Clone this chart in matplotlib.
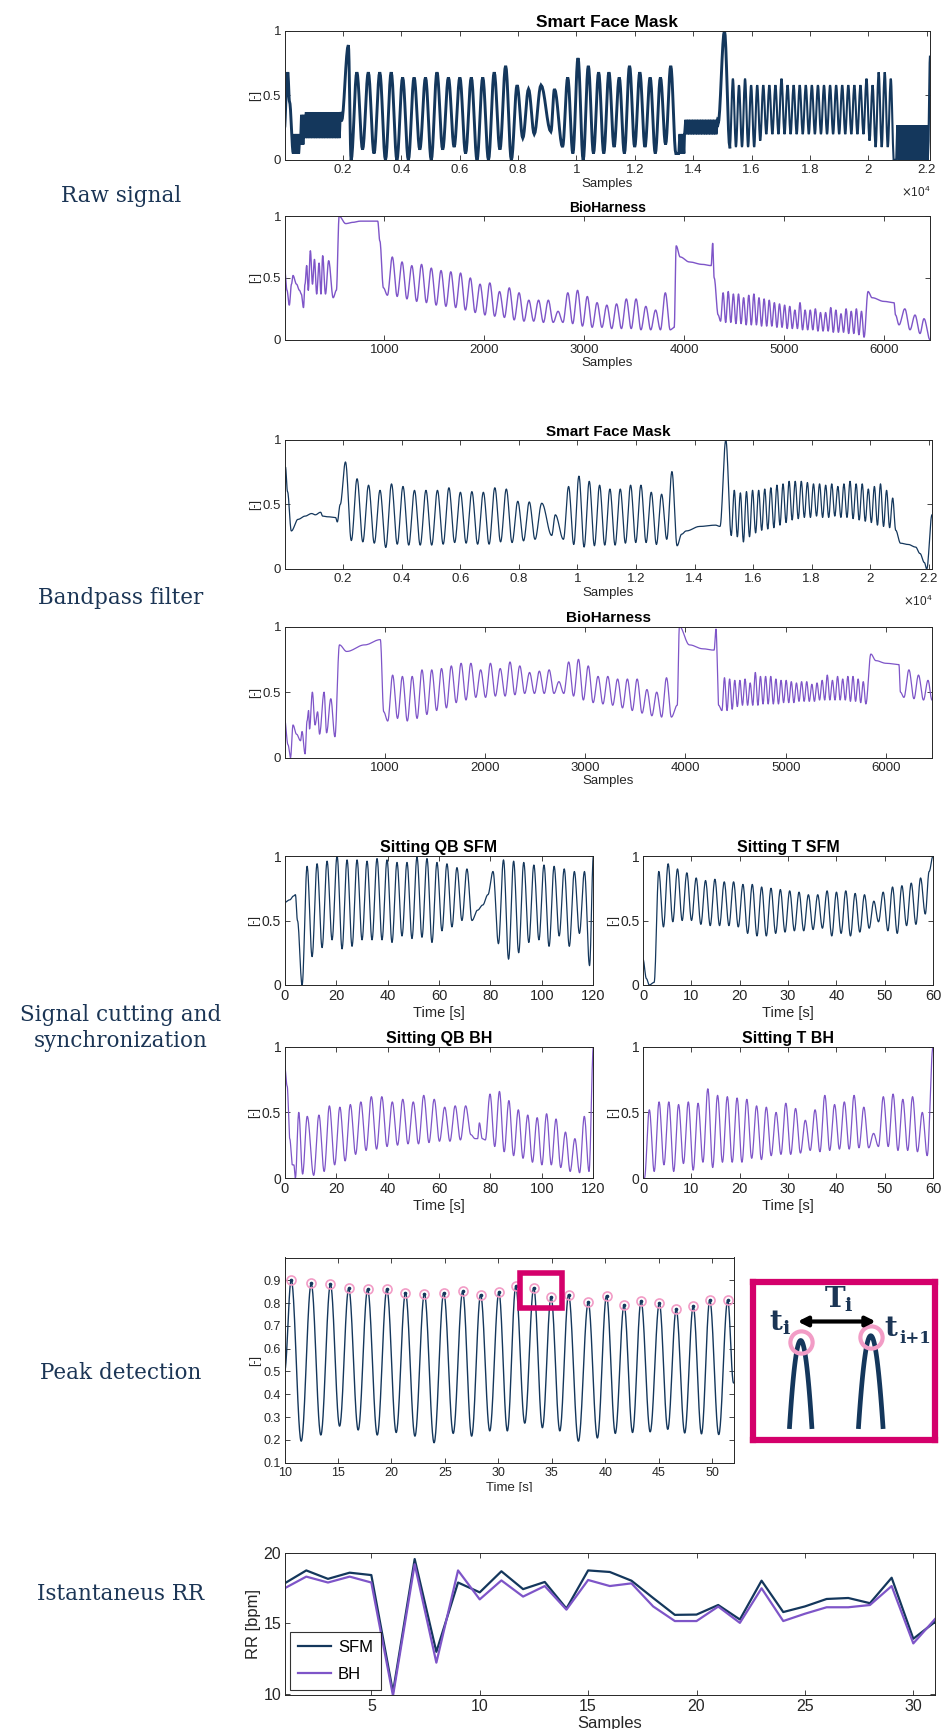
import numpy as np
import matplotlib
matplotlib.use("Agg")
import matplotlib.pyplot as plt
from matplotlib.patches import Rectangle

# ---------------------------------------------------------------- colours
SFM_COLOR = "#14375c"
BH_COLOR = "#7e55c8"
RING_COLOR = "#f29cc6"
BOX_COLOR = "#d4006b"
STEP_COLOR = "#1b3555"

# ---------------------------------------------------------------- data
# Smart Face Mask, raw (samples, normalised amplitude)
RAW_SFM_HEAD = [(0, 0.25), (60, 0.50), (110, 0.68), (170, 0.45), (300, 0.05)]
RAW_SFM_BANDS_1 = [(300, 540, 0.05, 0.20), (540, 700, 0.12, 0.35), (700, 1950, 0.17, 0.37)]
RAW_SFM_RISE = [(1950, 0.30), (2185, 0.89), (2280, 0.0)]
RAW_SFM_A_PEAKS = [0.68, 0.68, 0.68, 0.68, 0.64, 0.64, 0.64, 0.68, 0.64, 0.64, 0.64, 0.64, 0.68, 0.73, 0.58, 0.55]
RAW_SFM_A_TROUGHS = [0.08, 0.05, 0.0, 0.0, 0.0, 0.08, 0.0, 0.08, 0.10, 0.05, 0.0, 0.0, 0.08, 0.0, 0.17, 0.20]
RAW_SFM_MID = [(8784, 0.58), (9123, 0.22), (9246, 0.55), (9523, 0.10)]
RAW_SFM_B_PEAKS = [0.64, 0.79, 0.73, 0.68, 0.68, 0.64, 0.73, 0.68, 0.64, 0.64, 0.73]
RAW_SFM_B_TROUGHS = [0.05, 0.0, 0.05, 0.05, 0.10, 0.05, 0.10, 0.10, 0.05, 0.12, 0.05]
RAW_SFM_BANDS_2 = [(13500, 13700, 0.05, 0.20), (13700, 14850, 0.20, 0.31)]
RAW_SFM_SPIKE = [(14850, 0.28), (15069, 1.0), (15254, 0.10)]
RAW_SFM_C_PEAKS = [0.63, 0.58, 0.63, 0.58, 0.58, 0.58, 0.58, 0.58, 0.63, 0.58, 0.58, 0.58, 0.58, 0.58,
                   0.58, 0.58, 0.58, 0.58, 0.58, 0.58, 0.58, 0.58, 0.63, 0.58, 0.68, 0.68, 0.63]
RAW_SFM_C_TROUGHS = [0.10, 0.10, 0.10, 0.10, 0.15, 0.20, 0.20, 0.20, 0.20, 0.20, 0.20, 0.20, 0.20, 0.20,
                     0.20, 0.20, 0.20, 0.20, 0.20, 0.20, 0.20, 0.20, 0.15, 0.10, 0.10, 0.10, 0.0]
RAW_SFM_BANDS_3 = [(20950, 22050, 0.0, 0.27)]
RAW_SFM_END = [(22050, 0.10), (22110, 0.80)]

# cycle windows shared by both Smart Face Mask traces (samples)
SFM_CYC_A = (2280, 8553)
SFM_CYC_B = (9523, 13405)
SFM_CYC_C = (15254, 20871)
SFM_XMAX = 22110

# Smart Face Mask, band-pass filtered
BP_SFM_HEAD = [(0, 0.51), (31, 0.79), (100, 0.60), (231, 0.295), (460, 0.385), (700, 0.41), (925, 0.43),
               (1050, 0.42), (1230, 0.44), (1300, 0.41), (1460, 0.405), (1740, 0.40), (1800, 0.365),
               (1900, 0.50), (2080, 0.83), (2280, 0.22)]
BP_SFM_A_PEAKS = [0.70, 0.65, 0.61, 0.66, 0.64, 0.61, 0.61, 0.61, 0.63, 0.595, 0.60, 0.595, 0.63, 0.62, 0.525, 0.52]
BP_SFM_A_TROUGHS = [0.21, 0.20, 0.167, 0.192, 0.185, 0.185, 0.185, 0.192, 0.205, 0.20, 0.192, 0.192, 0.21, 0.205, 0.218, 0.23]
BP_SFM_MID = [(8784, 0.51), (9123, 0.26), (9246, 0.42), (9523, 0.23)]
BP_SFM_B_PEAKS = [0.64, 0.72, 0.68, 0.65, 0.62, 0.62, 0.65, 0.65, 0.595, 0.58, 0.755]
BP_SFM_B_TROUGHS = [0.19, 0.17, 0.18, 0.185, 0.185, 0.20, 0.205, 0.205, 0.19, 0.23, 0.18]
BP_SFM_GAP = [(13560, 0.27), (13715, 0.295), (14177, 0.33), (14717, 0.34), (14870, 0.33), (15069, 1.0), (15254, 0.26)]
BP_SFM_C_PEAKS = [0.61, 0.59, 0.60, 0.61, 0.61, 0.62, 0.63, 0.65, 0.66, 0.68, 0.68, 0.68, 0.67, 0.66,
                  0.66, 0.65, 0.66, 0.64, 0.66, 0.68, 0.66, 0.66, 0.62, 0.64, 0.66, 0.61, 0.55]
BP_SFM_C_TROUGHS = [0.25, 0.21, 0.25, 0.28, 0.30, 0.31, 0.32, 0.34, 0.36, 0.38, 0.39, 0.40, 0.40, 0.41,
                    0.40, 0.40, 0.41, 0.40, 0.40, 0.39, 0.38, 0.37, 0.36, 0.34, 0.33, 0.32, 0.30]
BP_SFM_TAIL = [(21035, 0.20), (21300, 0.19), (21550, 0.17), (21700, 0.12), (21850, 0.05), (21930, 0.0), (22110, 0.42)]

# BioHarness cycle windows (samples)
BH_CYC_A = (1030, 3860)
BH_CYC_B = (4364, 5800)
BH_XMAX = 6460

# BioHarness, raw
RAW_BH_HEAD = [(0, 0.58), (25, 0.40), (48, 0.28), (70, 0.45), (85, 0.52), (120, 0.45), (150, 0.40), (168, 0.37),
               (190, 0.26), (205, 0.45), (222, 0.60), (238, 0.40), (259, 0.72), (280, 0.45), (300, 0.65),
               (322, 0.37), (346, 0.62), (365, 0.37), (382, 0.68), (410, 0.37), (442, 0.64), (487, 0.34),
               (519, 0.40), (547, 1.0), (613, 0.94), (680, 0.95), (760, 0.96), (933, 0.96), (954, 0.80),
               (990, 0.42), (1030, 0.36)]
RAW_BH_A_PEAKS = [0.67, 0.63, 0.60, 0.61, 0.58, 0.56, 0.55, 0.54, 0.50, 0.45, 0.46, 0.39, 0.42, 0.38, 0.32,
                  0.32, 0.32, 0.23, 0.38, 0.40, 0.35, 0.30, 0.28, 0.29, 0.33, 0.33, 0.27, 0.24, 0.38]
RAW_BH_A_TROUGHS = [0.35, 0.33, 0.31, 0.30, 0.28, 0.27, 0.26, 0.24, 0.22, 0.20, 0.19, 0.18, 0.16, 0.15, 0.15,
                    0.14, 0.14, 0.14, 0.13, 0.11, 0.10, 0.10, 0.09, 0.09, 0.09, 0.08, 0.08, 0.08, 0.08]
RAW_BH_MID = [(3900, 0.10), (3920, 0.76), (3960, 0.67), (4050, 0.63), (4180, 0.61), (4270, 0.60),
              (4285, 0.78), (4300, 0.50), (4340, 0.20), (4364, 0.15)]
RAW_BH_B_PEAKS = [0.38, 0.39, 0.37, 0.37, 0.34, 0.36, 0.37, 0.34, 0.33, 0.32, 0.30, 0.29, 0.28, 0.27,
                  0.24, 0.30, 0.24, 0.24, 0.25, 0.22, 0.22, 0.26, 0.24, 0.21, 0.25, 0.23, 0.25, 0.23]
RAW_BH_B_TROUGHS = [0.14, 0.14, 0.13, 0.13, 0.12, 0.12, 0.12, 0.11, 0.11, 0.11, 0.10, 0.10, 0.09, 0.09,
                    0.09, 0.08, 0.08, 0.08, 0.07, 0.07, 0.07, 0.06, 0.06, 0.06, 0.05, 0.05, 0.04, 0.02]
RAW_BH_TAIL = [(5840, 0.39), (5880, 0.34), (6000, 0.31), (6100, 0.30), (6115, 0.20), (6150, 0.12),
               (6208, 0.25), (6260, 0.08), (6310, 0.20), (6360, 0.05), (6400, 0.17), (6460, 0.0)]

# BioHarness, band-pass filtered
BP_BH_HEAD = [(0, 0.30), (35, 0.10), (60, 0.0), (85, 0.25), (120, 0.18), (160, 0.13), (175, 0.20), (205, 0.03),
              (225, 0.28), (240, 0.36), (250, 0.22), (278, 0.50), (305, 0.25), (330, 0.35), (350, 0.18),
              (395, 0.50), (420, 0.19), (462, 0.45), (503, 0.16), (548, 0.86), (620, 0.81), (800, 0.86),
              (956, 0.90), (990, 0.35), (1030, 0.28)]
BP_BH_A_PEAKS = [0.63, 0.62, 0.62, 0.67, 0.67, 0.68, 0.70, 0.72, 0.72, 0.67, 0.72, 0.68, 0.73, 0.70, 0.65,
                 0.66, 0.67, 0.58, 0.73, 0.75, 0.70, 0.62, 0.62, 0.60, 0.60, 0.60, 0.52, 0.50, 0.61]
BP_BH_A_TROUGHS = [0.30, 0.28, 0.30, 0.33, 0.36, 0.38, 0.42, 0.44, 0.46, 0.46, 0.47, 0.47, 0.48, 0.49, 0.49,
                   0.49, 0.49, 0.49, 0.47, 0.44, 0.42, 0.41, 0.40, 0.38, 0.36, 0.34, 0.32, 0.31, 0.31]
BP_BH_MID = [(3918, 0.40), (3940, 1.0), (4040, 0.86), (4175, 0.83), (4286, 0.82), (4305, 0.98),
             (4331, 0.40), (4364, 0.36)]
BP_BH_B_PEAKS = [0.61, 0.60, 0.59, 0.59, 0.60, 0.57, 0.65, 0.62, 0.62, 0.62, 0.60, 0.59, 0.59, 0.58,
                 0.57, 0.58, 0.58, 0.56, 0.57, 0.59, 0.63, 0.59, 0.62, 0.60, 0.62, 0.62, 0.60, 0.58]
BP_BH_B_TROUGHS = [0.36, 0.37, 0.39, 0.40, 0.40, 0.40, 0.40, 0.41, 0.41, 0.41, 0.41, 0.42, 0.42, 0.42,
                   0.43, 0.43, 0.43, 0.43, 0.44, 0.44, 0.44, 0.44, 0.44, 0.44, 0.43, 0.43, 0.42, 0.41]
BP_BH_TAIL = [(5850, 0.79), (5900, 0.74), (6000, 0.72), (6130, 0.71), (6145, 0.50), (6180, 0.46),
              (6230, 0.67), (6280, 0.45), (6325, 0.63), (6375, 0.44), (6420, 0.59), (6460, 0.44)]

# Sitting QB, Smart Face Mask (seconds)
QB_SFM_HEAD = [(0, 0.64), (2, 0.66), (3.5, 0.69), (4.2, 0.70), (5.0, 0.50), (6.8, 0.0)]
QB_SFM_CYC_A = (6.8, 72.8)
QB_SFM_A_PEAKS = [0.92, 0.94, 0.96, 1.0, 0.97, 0.97, 0.96, 0.98, 0.97, 0.95, 0.95, 0.99, 0.98, 0.95, 0.94, 0.91, 0.90]
QB_SFM_A_TROUGHS = [0.22, 0.29, 0.35, 0.28, 0.30, 0.35, 0.35, 0.35, 0.33, 0.38, 0.36, 0.37, 0.33, 0.42, 0.45, 0.50, 0.50]
QB_SFM_RAMP = [(75, 0.58), (77, 0.62), (79, 0.70), (81, 0.88), (83.1, 0.32)]
QB_SFM_CYC_B = (83.1, 118.5)
QB_SFM_B_PEAKS = [0.97, 0.96, 0.95, 0.93, 0.93, 0.92, 0.90, 0.88, 0.88]
QB_SFM_B_TROUGHS = [0.20, 0.25, 0.33, 0.35, 0.30, 0.38, 0.30, 0.40, 0.15]
QB_SFM_END = [(120, 1.0)]

# Sitting T, Smart Face Mask (seconds)
T_SFM_HEAD = [(0, 0.20), (0.7, 0.05), (1.3, 0.0), (2.3, 0.02)]
T_SFM_CYC = (2.3, 58.4)
T_SFM_PEAKS = [0.88, 0.94, 0.90, 0.87, 0.83, 0.81, 0.82, 0.80, 0.80, 0.78, 0.78, 0.76, 0.75, 0.74, 0.73,
               0.72, 0.70, 0.70, 0.73, 0.72, 0.73, 0.71, 0.70, 0.65, 0.72, 0.76, 0.77, 0.79, 0.83]
T_SFM_TROUGHS = [0.45, 0.49, 0.50, 0.50, 0.47, 0.46, 0.46, 0.46, 0.45, 0.40, 0.38, 0.38, 0.40, 0.41, 0.42,
                 0.42, 0.43, 0.44, 0.38, 0.40, 0.38, 0.41, 0.44, 0.49, 0.42, 0.40, 0.46, 0.47, 0.55]
T_SFM_END = [(59.2, 0.88), (60, 1.0)]

# Sitting QB, BioHarness (seconds)
QB_BH_HEAD = [(0, 0.86), (1, 0.70), (2, 0.30), (3, 0.10), (3.6, 0.10), (4.2, 0.0), (5.5, 0.50), (7.0, 0.03),
              (8.8, 0.47), (11.3, 0.02)]
QB_BH_CYC_A = (11.3, 72.4)
QB_BH_A_PEAKS = [0.48, 0.55, 0.54, 0.56, 0.58, 0.62, 0.62, 0.58, 0.60, 0.58, 0.63, 0.60, 0.54, 0.55, 0.55]
QB_BH_A_TROUGHS = [0.05, 0.10, 0.13, 0.18, 0.21, 0.22, 0.24, 0.25, 0.26, 0.26, 0.27, 0.28, 0.28, 0.29, 0.33]
QB_BH_RAMP = [(74, 0.30), (75, 0.30), (75.7, 0.42), (76.8, 0.30), (78, 0.29)]
QB_BH_CYC_B = (78, 118.3)
QB_BH_B_PEAKS = [0.64, 0.66, 0.59, 0.52, 0.48, 0.46, 0.49, 0.45, 0.35, 0.30, 0.47]
QB_BH_B_TROUGHS = [0.24, 0.20, 0.17, 0.15, 0.12, 0.10, 0.10, 0.08, 0.05, 0.04, 0.05]
QB_BH_END = [(120, 1.0)]

# Sitting T, BioHarness (seconds)
T_BH_HEAD = [(0, 0.0), (0.3, 0.0)]
T_BH_CYC = (0.3, 58.8)
T_BH_PEAKS = [0.52, 0.58, 0.58, 0.56, 0.58, 0.57, 0.68, 0.63, 0.62, 0.61, 0.60, 0.55, 0.54, 0.50, 0.57,
              0.53, 0.44, 0.52, 0.63, 0.56, 0.58, 0.63, 0.54, 0.34, 0.62, 0.64, 0.60, 0.62, 0.50]
T_BH_TROUGHS = [0.05, 0.10, 0.05, 0.11, 0.06, 0.12, 0.08, 0.12, 0.12, 0.12, 0.15, 0.14, 0.17, 0.18, 0.18,
                0.19, 0.21, 0.20, 0.21, 0.22, 0.22, 0.23, 0.23, 0.24, 0.24, 0.21, 0.21, 0.20, 0.17]
T_BH_END = [(60, 1.0)]

# Peak detection (seconds)
PEAK_T = [10.62, 12.49, 14.29, 16.00, 17.77, 19.57, 21.31, 23.08, 24.89, 26.66, 28.34, 30.05, 31.63,
          33.31, 34.93, 36.57, 38.41, 40.12, 41.76, 43.35, 45.06, 46.64, 48.23, 49.78, 51.46]
PEAK_V = [0.903, 0.886, 0.883, 0.865, 0.861, 0.861, 0.846, 0.842, 0.846, 0.851, 0.837, 0.848, 0.873,
          0.868, 0.828, 0.837, 0.804, 0.832, 0.792, 0.810, 0.801, 0.773, 0.786, 0.814, 0.813]
TROUGH_V = [0.194, 0.221, 0.260, 0.243, 0.221, 0.232, 0.216, 0.187, 0.228, 0.216, 0.239, 0.239,
            0.273, 0.253, 0.239, 0.194, 0.208, 0.228, 0.232, 0.235, 0.246, 0.230, 0.226, 0.223]
PEAK_START = (10.0, 0.50)
PEAK_END = (52.0, 0.45)
ZOOM_BOX = (32.0, 0.78, 4.0, 0.15)   # t, value, width, height

# Instantaneous respiratory rate (bpm)
RR_SAMPLES = list(range(1, 32))
RR_SFM = [17.84, 18.76, 18.16, 18.60, 18.43, 10.10, 19.57, 12.97, 17.90, 17.20, 18.70, 17.43, 17.94,
          16.05, 18.76, 18.65, 18.03, 16.80, 15.60, 15.62, 16.30, 15.27, 18.03, 15.80, 16.20, 16.73,
          16.80, 16.43, 18.24, 13.90, 15.10]
RR_BH = [17.49, 18.32, 17.90, 18.32, 17.90, 9.85, 19.20, 12.20, 18.76, 16.70, 18.05, 16.90, 17.65,
         15.97, 18.08, 17.65, 17.84, 16.20, 15.16, 15.16, 16.19, 15.03, 17.49, 15.16, 15.68, 16.14,
         16.14, 16.30, 17.65, 13.57, 15.30]

STEP_LABELS = [("Raw signal", 196), ("Bandpass filter", 598),
               ("Signal cutting and\nsynchronization", 1028), ("Peak detection", 1373),
               ("Istantaneus RR", 1594)]


# ---------------------------------------------------------------- helpers
def cycle_keys(window, peaks, troughs):
    t0, t1 = window
    period = (t1 - t0) / len(peaks)
    keys = []
    for i, (p, q) in enumerate(zip(peaks, troughs)):
        keys.append((t0 + (i + 0.5) * period, p))
        keys.append((t0 + (i + 1) * period, q))
    return keys


def band_keys(bands, step):
    keys = []
    for t0, t1, lo, hi in bands:
        for i, t in enumerate(np.arange(t0, t1, step)):
            keys.append((t, lo if i % 2 == 0 else hi))
    return keys


def trace(keys, n=14):
    t = np.array([k[0] for k in keys], float)
    v = np.array([k[1] for k in keys], float)
    s = np.linspace(0, 1, n, endpoint=False)
    w = 0.5 - 0.5 * np.cos(np.pi * s)
    xs = (t[:-1, None] + (t[1:] - t[:-1])[:, None] * s[None, :]).ravel()
    ys = (v[:-1, None] + (v[1:] - v[:-1])[:, None] * w[None, :]).ravel()
    return np.append(xs, t[-1]), np.append(ys, v[-1])


# ---------------------------------------------------------------- style
plt.rcParams.update({
    "font.family": ["Liberation Sans", "DejaVu Sans"],
    "font.size": 9,
    "axes.linewidth": 0.7,
    "axes.edgecolor": "#262626",
    "axes.labelcolor": "#262626",
    "xtick.color": "#262626",
    "ytick.color": "#262626",
    "xtick.direction": "in",
    "ytick.direction": "in",
    "xtick.top": True,
    "ytick.right": True,
    "xtick.major.size": 3.5,
    "ytick.major.size": 3.5,
    "xtick.major.width": 0.6,
    "ytick.major.width": 0.6,
    "xtick.major.pad": 3,
    "ytick.major.pad": 2.5,
    "mathtext.fontset": "dejavuserif",
})

W, H = 942, 1729
fig = plt.figure(figsize=(W / 100, H / 100), dpi=100)


def add_axes(l, t, r, b):
    return fig.add_axes([l / W, 1 - b / H, (r - l) / W, (b - t) / H])


def unit_axis(ax):
    ax.set_ylim(0, 1)
    ax.set_yticks([0, 0.5, 1])
    ax.set_yticklabels(["0", "0.5", "1"])
    ax.set_ylabel("[-]", labelpad=1, fontsize=9)


def sfm_axis(ax, title, tsize):
    ax.set_xlim(1, SFM_XMAX)
    ticks = np.arange(2000, 22001, 2000)
    ax.set_xticks(ticks)
    ax.set_xticklabels([f"{t / 1e4:g}" for t in ticks])
    ax.set_xlabel("Samples", labelpad=1, fontsize=9.5)
    ax.text(1.0, -0.19, r"$\times\mathregular{10^4}$", transform=ax.transAxes,
            ha="right", va="top", fontsize=8.5, color="#262626")
    ax.set_title(title, fontweight="bold", fontsize=tsize, pad=3)
    ax.tick_params(labelsize=9.5)
    unit_axis(ax)


def bh_axis(ax, title, tsize):
    ax.set_xlim(1, BH_XMAX)
    ax.set_xticks(np.arange(1000, 6001, 1000))
    ax.set_xlabel("Samples", labelpad=1, fontsize=9.5)
    ax.set_title(title, fontweight="bold", fontsize=tsize, pad=3)
    ax.tick_params(labelsize=9.5)
    unit_axis(ax)


# ---------------------------------------------------------------- raw signals
raw_sfm_front = (RAW_SFM_HEAD + band_keys(RAW_SFM_BANDS_1, 45) + RAW_SFM_RISE
                 + cycle_keys(SFM_CYC_A, RAW_SFM_A_PEAKS, RAW_SFM_A_TROUGHS)
                 + RAW_SFM_MID + cycle_keys(SFM_CYC_B, RAW_SFM_B_PEAKS, RAW_SFM_B_TROUGHS)
                 + band_keys(RAW_SFM_BANDS_2, 45) + RAW_SFM_SPIKE)
raw_sfm_fast = [RAW_SFM_SPIKE[-1]] + cycle_keys(SFM_CYC_C, RAW_SFM_C_PEAKS, RAW_SFM_C_TROUGHS)
raw_sfm_back = [raw_sfm_fast[-1]] + band_keys(RAW_SFM_BANDS_3, 45) + RAW_SFM_END

ax = add_axes(284.6, 30.9, 930, 160)
for keys, lw, n in [(raw_sfm_front, 2.1, 8), (raw_sfm_fast, 1.5, 10), (raw_sfm_back, 1.6, 6)]:
    x, y = trace(keys, n)
    ax.plot(x, y, color=SFM_COLOR, lw=lw, solid_joinstyle="miter")
sfm_axis(ax, "Smart Face Mask", 12.5)

raw_bh_keys = (RAW_BH_HEAD + cycle_keys(BH_CYC_A, RAW_BH_A_PEAKS, RAW_BH_A_TROUGHS) + RAW_BH_MID
               + cycle_keys(BH_CYC_B, RAW_BH_B_PEAKS, RAW_BH_B_TROUGHS) + RAW_BH_TAIL)
ax = add_axes(284.6, 216.2, 930, 339.7)
x, y = trace(raw_bh_keys)
ax.plot(x, y, color=BH_COLOR, lw=1.0)
bh_axis(ax, "BioHarness", 10)

# ---------------------------------------------------------------- band-pass filtered
bp_sfm_keys = (BP_SFM_HEAD + cycle_keys(SFM_CYC_A, BP_SFM_A_PEAKS, BP_SFM_A_TROUGHS) + BP_SFM_MID
               + cycle_keys(SFM_CYC_B, BP_SFM_B_PEAKS, BP_SFM_B_TROUGHS) + BP_SFM_GAP
               + cycle_keys(SFM_CYC_C, BP_SFM_C_PEAKS, BP_SFM_C_TROUGHS) + BP_SFM_TAIL)
ax = add_axes(284.6, 440, 932, 569)
x, y = trace(bp_sfm_keys)
ax.plot(x, y, color=SFM_COLOR, lw=0.9)
sfm_axis(ax, "Smart Face Mask", 11)

bp_bh_keys = (BP_BH_HEAD + cycle_keys(BH_CYC_A, BP_BH_A_PEAKS, BP_BH_A_TROUGHS) + BP_BH_MID
              + cycle_keys(BH_CYC_B, BP_BH_B_PEAKS, BP_BH_B_TROUGHS) + BP_BH_TAIL)
ax = add_axes(284.6, 626.5, 932, 757.8)
x, y = trace(bp_bh_keys)
ax.plot(x, y, color=BH_COLOR, lw=0.9)
bh_axis(ax, "BioHarness", 11)

# ---------------------------------------------------------------- cut and synchronised windows
panels = [
    ((284.6, 856, 593.4, 985), "Sitting QB SFM", SFM_COLOR, 120,
     QB_SFM_HEAD + cycle_keys(QB_SFM_CYC_A, QB_SFM_A_PEAKS, QB_SFM_A_TROUGHS) + QB_SFM_RAMP
     + cycle_keys(QB_SFM_CYC_B, QB_SFM_B_PEAKS, QB_SFM_B_TROUGHS) + QB_SFM_END),
    ((643, 856, 933, 985), "Sitting T SFM", SFM_COLOR, 60,
     T_SFM_HEAD + cycle_keys(T_SFM_CYC, T_SFM_PEAKS, T_SFM_TROUGHS) + T_SFM_END),
    ((284.6, 1046.8, 593.4, 1178), "Sitting QB BH", BH_COLOR, 120,
     QB_BH_HEAD + cycle_keys(QB_BH_CYC_A, QB_BH_A_PEAKS, QB_BH_A_TROUGHS) + QB_BH_RAMP
     + cycle_keys(QB_BH_CYC_B, QB_BH_B_PEAKS, QB_BH_B_TROUGHS) + QB_BH_END),
    ((643, 1046.8, 933, 1178), "Sitting T BH", BH_COLOR, 60,
     T_BH_HEAD + cycle_keys(T_BH_CYC, T_BH_PEAKS, T_BH_TROUGHS) + T_BH_END),
]
for rect, title, color, tmax, keys in panels:
    ax = add_axes(*rect)
    x, y = trace(keys)
    ax.plot(x, y, color=color, lw=0.9)
    ax.set_xlim(0, tmax)
    ax.set_xticks(np.arange(0, tmax + 1, tmax // 6))
    ax.tick_params(labelsize=10.5)
    ax.set_xlabel("Time [s]", labelpad=2, fontsize=10.5)
    ax.set_title(title, fontweight="bold", fontsize=11.5, pad=3)
    unit_axis(ax)
    ax.tick_params(axis="y", labelsize=10)

# ---------------------------------------------------------------- peak detection
peak_keys = [PEAK_START]
for i, (t, v) in enumerate(zip(PEAK_T, PEAK_V)):
    peak_keys.append((t, v))
    if i < len(TROUGH_V):
        peak_keys.append(((t + PEAK_T[i + 1]) / 2, TROUGH_V[i]))
peak_keys.append(PEAK_END)
ax = add_axes(284.6, 1257.5, 733.5, 1462.6)
x, y = trace(peak_keys, 30)
ax.plot(x, y, color=SFM_COLOR, lw=1.0)
ax.plot(PEAK_T, PEAK_V, "o", ms=6.5, mfc="none", mec=RING_COLOR, mew=1.2)
ax.plot(PEAK_T, PEAK_V, "o", ms=1.6, color=SFM_COLOR)
ax.add_patch(Rectangle(ZOOM_BOX[:2], ZOOM_BOX[2], ZOOM_BOX[3], fill=False,
                       ec=BOX_COLOR, lw=4, zorder=5))
ax.set_xlim(10, 52)
ax.set_ylim(0.1, 1.0)
ax.set_xticks(np.arange(10, 51, 5))
ax.set_yticks(np.arange(0.1, 0.95, 0.1))
ax.set_yticklabels([f"{v:.1f}" for v in np.arange(0.1, 0.95, 0.1)])
ax.tick_params(labelsize=9)
ax.set_xlabel("Time [s]", labelpad=2, fontsize=9.5)
ax.set_ylabel("[-]", labelpad=2, fontsize=9)
# the lower half of the axis label is hidden behind a white strip
fig.patches.append(Rectangle((280 / W, 1 - 1545 / H), 470 / W, 53 / H, transform=fig.transFigure,
                             fc="white", ec="none", zorder=10))

# schematic of the interval between consecutive peaks
ix = add_axes(753, 1282, 935, 1440)
ix.set_xlim(0, 1)
ix.set_ylim(0, 1)
ix.set_xticks([])
ix.set_yticks([])
for s in ix.spines.values():
    s.set_color(BOX_COLOR)
    s.set_linewidth(4.5)
for xc, tip, half in [(0.262, 0.63, 0.062), (0.647, 0.66, 0.068)]:
    xs = np.linspace(xc - half, xc + half, 60)
    ys = tip - (tip - 0.07) * ((xs - xc) / half) ** 2
    ix.plot(xs, ys, color=SFM_COLOR, lw=3.4, solid_capstyle="butt")
    ix.plot([xc], [tip - 0.01], "o", ms=16, mfc="none", mec=RING_COLOR, mew=3)
ix.annotate("", xy=(0.69, 0.75), xytext=(0.23, 0.75),
            arrowprops=dict(arrowstyle="<|-|>", color="black", lw=3, mutation_scale=14))
ix.text(0.47, 0.80, r"$\mathbf{T_i}$", fontsize=20, color=STEP_COLOR, ha="center", va="bottom")
ix.text(0.15, 0.74, r"$\mathbf{t_i}$", fontsize=20, color=STEP_COLOR, ha="center", va="center")
ix.text(0.80, 0.70, r"$\mathbf{t}$", fontsize=20, color=STEP_COLOR, ha="right", va="center")
ix.text(0.805, 0.64, "i+1", fontsize=12, fontweight="bold", family=["DejaVu Serif"],
        color=STEP_COLOR, ha="left", va="center")

# ---------------------------------------------------------------- instantaneous RR
ax = add_axes(284.6, 1553, 935, 1695)
ax.plot(RR_SAMPLES, RR_SFM, color=SFM_COLOR, lw=1.6, label="SFM")
ax.plot(RR_SAMPLES, RR_BH, color=BH_COLOR, lw=1.6, label="BH")
ax.set_xlim(1, 31)
ax.set_ylim(9.9, 20)
ax.set_xticks(np.arange(5, 31, 5))
ax.set_yticks([10, 15, 20])
ax.tick_params(labelsize=11.5)
ax.set_xlabel("Samples", labelpad=1, fontsize=12)
ax.set_ylabel("RR [bpm]", labelpad=2, fontsize=12)
leg = ax.legend(loc="lower left", fontsize=12, frameon=True, fancybox=False, edgecolor="black",
                handlelength=2.0, borderpad=0.5, labelspacing=0.7, borderaxespad=0.3,
                handletextpad=0.4)
leg.get_frame().set_linewidth(0.8)

# ---------------------------------------------------------------- step labels
for text, yc in STEP_LABELS:
    fig.text(121 / W, 1 - yc / H, text, ha="center", va="center", fontsize=15.5,
             family=["DejaVu Serif"], color=STEP_COLOR, linespacing=1.2)

fig.savefig("out.png", dpi=100)
